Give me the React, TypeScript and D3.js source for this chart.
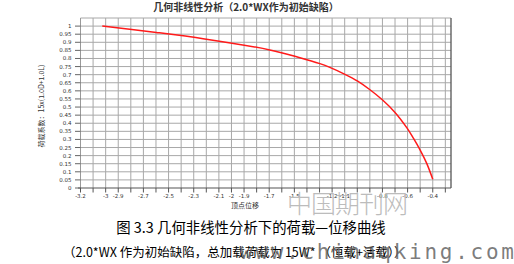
import React from "react";
import * as d3 from "d3";

const title = "几何非线性分析（2.0*WX作为初始缺陷）";
const yAxisTitle = "荷载系数：15x(1.0D+1.0L)";
const xAxisTitle = "顶点位移";
const caption1 = "图 3.3  几何非线性分析下的荷载—位移曲线";
const caption2 = "（2.0*WX 作为初始缺陷，总加载荷载为 15W* （恒载+活载））";

const displacement = [-3.027, -2.597, -2.213, -1.695, -1.456, -1.297, -1.218, -1.098, -0.997, -0.899, -0.801, -0.7, -0.604, -0.554, -0.501, -0.448, -0.4];
const loadFactor = [1.0, 0.961, 0.921, 0.853, 0.805, 0.768, 0.745, 0.702, 0.66, 0.607, 0.545, 0.467, 0.37, 0.308, 0.236, 0.152, 0.054];

const xTickLabels = [-3.2, -3, -2.9, -2.7, -2.5, -2.3, -2.1, -2, -1.9, -1.7, -1.5, -1.2, -1.1, -0.8, -0.6, -0.4];
const yTickValues = d3.range(0, 21).map((i) => +(i * 0.05).toFixed(2));
const xGridValues = d3.range(1, 30).map((i) => +(-3.2 + i * 0.1).toFixed(1));

export default function App() {
  const W = 514, H = 264;
  const x = d3.scaleLinear().domain([-3.2, -0.255]).range([80.5, 451]);
  const y = d3.scaleLinear().domain([0, 1.05]).range([188, 18]);
  const pts = displacement.map((d, i) => [d, loadFactor[i]] as [number, number]);
  const line = d3.line<[number, number]>().x((d) => x(d[0])).y((d) => y(d[1])).curve(d3.curveCatmullRom.alpha(0.5));
  const tickFont = "'DejaVu Sans', sans-serif";
  const cjk = "'Noto Sans CJK SC', sans-serif";
  return (
    <svg width={W} height={H} style={{ position: "absolute", left: 0, top: 0, background: "#fff" }}>
      <rect width={W} height={H} fill="#fff" />
      {/* grid */}
      {yTickValues.filter((v) => v > 0).map((v) => (
        <line key={"hy" + v} x1={80.5} x2={451} y1={y(v)} y2={y(v)} stroke="#a8a8a8" strokeWidth={1} />
      ))}
      <line x1={80.5} x2={451} y1={y(1.05)} y2={y(1.05)} stroke="#a8a8a8" strokeWidth={1} />
      {xGridValues.map((v) => (
        <line key={"vx" + v} x1={x(v)} x2={x(v)} y1={18} y2={188} stroke="#a8a8a8" strokeWidth={1} />
      ))}
      {/* frame */}
      <line x1={80.5} x2={80.5} y1={18} y2={188} stroke="#999" strokeWidth={1} />
      <line x1={451} x2={451} y1={18} y2={188} stroke="#555" strokeWidth={1.3} />
      <line x1={78} x2={451} y1={188} y2={188} stroke="#555" strokeWidth={1.2} />
      {/* y ticks */}
      {yTickValues.map((v) => (
        <g key={"yt" + v}>
          <line x1={75} x2={80.5} y1={y(v)} y2={y(v)} stroke="#666" strokeWidth={1} />
          <text x={71.5} y={y(v) + 2} fontSize={5.5} fontFamily={tickFont} textAnchor="end" fill="#333">{String(v)}</text>
        </g>
      ))}
      {/* x ticks */}
      {[-3.2, ...xGridValues].map((v) => (
        <line key={"xt" + v} x1={x(v)} x2={x(v)} y1={188} y2={192.5} stroke="#555" strokeWidth={1} />
      ))}
      {xTickLabels.map((v) => (
        <text key={"xl" + v} x={x(v)} y={198} fontSize={5.5} fontFamily={tickFont} textAnchor="middle" fill="#333">{String(v)}</text>
      ))}
      {/* curve */}
      <path d={line(pts) || ""} fill="none" stroke="#ff1a1a" strokeWidth={1.5} />
      {/* titles */}
      <text x={246} y={11} fontSize={10} fontWeight="bold" fontFamily={cjk} textAnchor="middle" fill="#333">{title}</text>
      <text transform="translate(44,106) rotate(-90)" fontSize={7} fontFamily={cjk} textAnchor="middle" fill="#333">{yAxisTitle}</text>
      <text x={245} y={208} fontSize={7} fontFamily={cjk} textAnchor="middle" fill="#333">{xAxisTitle}</text>
      {/* watermark 1 */}
      <text x={287} y={213} fontSize={25} fontFamily={cjk} fontWeight={300} fill="#bcbcbc" textLength={121} lengthAdjust="spacing">中国期刊网</text>
      {/* captions */}
      <text x={251} y={233} fontSize={14.4} fontFamily={cjk} textAnchor="middle" fill="#000">{caption1}</text>
      <text x={63} y={257} fontSize={12.5} fontFamily={cjk} fill="#000">{caption2}</text>
      {/* watermark 2 */}
      <text x={240} y={259} fontSize={21} fontFamily="'DejaVu Sans Mono', monospace" fill="#666" fillOpacity={0.85} textLength={274} lengthAdjust="spacing">www.chinaqking.com</text>
    </svg>
  );
}
